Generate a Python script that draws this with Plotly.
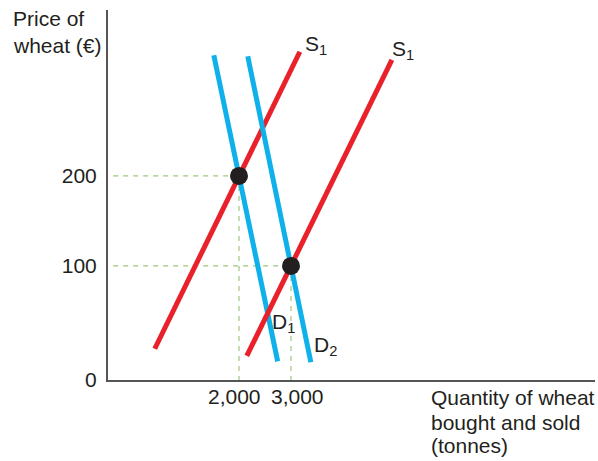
import plotly.graph_objects as go

# ---- data (quantity in tonnes, price in €) ----
supply1_q = [380, 3170]
supply1_p = [8, 338]
supply2_q = [2150, 4940]
supply2_p = [0, 329]
demand1_q = [1516, 2744]
demand1_p = [334, -6]
demand2_q = [2168, 3382]
demand2_p = [333, -7]
equil_q = [2000, 3000]
equil_p = [200, 100]

x_range = [-519, 8846]
y_range = [-26.7, 384.4]
y_tick_vals = [-26.7, 100, 200]
y_tick_text = ["0", "100", "200"]
x_tick_vals = [2000, 3000]
x_tick_text = ["2,000", "3,000"]
x_tick_shift = [-4, 6]

curve_labels = ["S<sub>1</sub>", "S<sub>1</sub>", "D<sub>1</sub>", "D<sub>2</sub>"]
curve_label_q = [3230, 4900, 2600, 3400]
curve_label_p = [345.6, 340, 36.7, 11.1]

y_title_lines = ["Price of", "wheat (€)"]
y_title_pos = [0.9757, 0.9054]
x_title_lines = ["Quantity of wheat", "bought and sold", "(tonnes)"]
x_title_pos = [-0.0486, -0.1162, -0.178]

RED = "#e8212a"
BLUE = "#0fb1ea"
GREEN = "#9fc67c"
FONT = "Liberation Sans, Arial, sans-serif"
TXT = "#231f20"
FS = 21

fig = go.Figure()

# guide dashes
dash_start = -420
for q, p in zip(equil_q, equil_p):
    fig.add_trace(go.Scatter(x=[dash_start, q], y=[p, p], mode="lines",
                             line=dict(color=GREEN, width=1.2, dash="5px,5px"),
                             hoverinfo="skip", showlegend=False))
    fig.add_trace(go.Scatter(x=[q, q], y=[p, y_range[0]], mode="lines",
                             line=dict(color=GREEN, width=1.2, dash="5px,5px"),
                             hoverinfo="skip", showlegend=False))

for xs, ys, col in [(supply1_q, supply1_p, RED), (demand1_q, demand1_p, BLUE),
                    (supply2_q, supply2_p, RED), (demand2_q, demand2_p, BLUE)]:
    fig.add_trace(go.Scatter(x=xs, y=ys, mode="lines",
                             line=dict(color=col, width=5),
                             showlegend=False))

fig.add_trace(go.Scatter(x=equil_q, y=equil_p, mode="markers",
                         marker=dict(color=TXT, size=18),
                         showlegend=False))

for t, q, p in zip(curve_labels, curve_label_q, curve_label_p):
    fig.add_annotation(x=q, y=p, text=t, showarrow=False, xanchor="left",
                       yanchor="middle", font=dict(family=FONT, size=FS, color=TXT))

for v, t, s in zip(x_tick_vals, x_tick_text, x_tick_shift):
    fig.add_annotation(x=v, y=0, yref="paper", text=t, showarrow=False,
                       xanchor="center", yanchor="top", xshift=s, yshift=-3,
                       font=dict(family=FONT, size=FS, color=TXT))

for t, yp in zip(y_title_lines, y_title_pos):
    fig.add_annotation(x=-0.199, y=yp, xref="paper", yref="paper", text=t,
                       showarrow=False, xanchor="left", yanchor="middle",
                       font=dict(family=FONT, size=FS, color=TXT))
for t, yp in zip(x_title_lines, x_title_pos):
    fig.add_annotation(x=0.659, y=yp, xref="paper", yref="paper", text=t,
                       showarrow=False, xanchor="left", yanchor="middle",
                       font=dict(family=FONT, size=FS, color=TXT))

fig.update_layout(
    width=598, height=461,
    margin=dict(l=108, r=3, t=10, b=81),
    paper_bgcolor="white", plot_bgcolor="white",
    xaxis=dict(range=x_range, showgrid=False, zeroline=False, showline=True,
               linecolor="#555555", linewidth=2, showticklabels=False,
               ticks="", fixedrange=True),
    yaxis=dict(range=y_range, showgrid=False, zeroline=False, showline=True,
               linecolor="#555555", linewidth=2, tickvals=y_tick_vals,
               ticktext=y_tick_text, ticks="", ticklabelstandoff=5,
               tickfont=dict(family=FONT, size=FS, color=TXT), fixedrange=True),
)

fig.write_html("out.html", config={"displayModeBar": False},
               post_script="document.body.style.margin='0';document.body.style.overflow='hidden';")
